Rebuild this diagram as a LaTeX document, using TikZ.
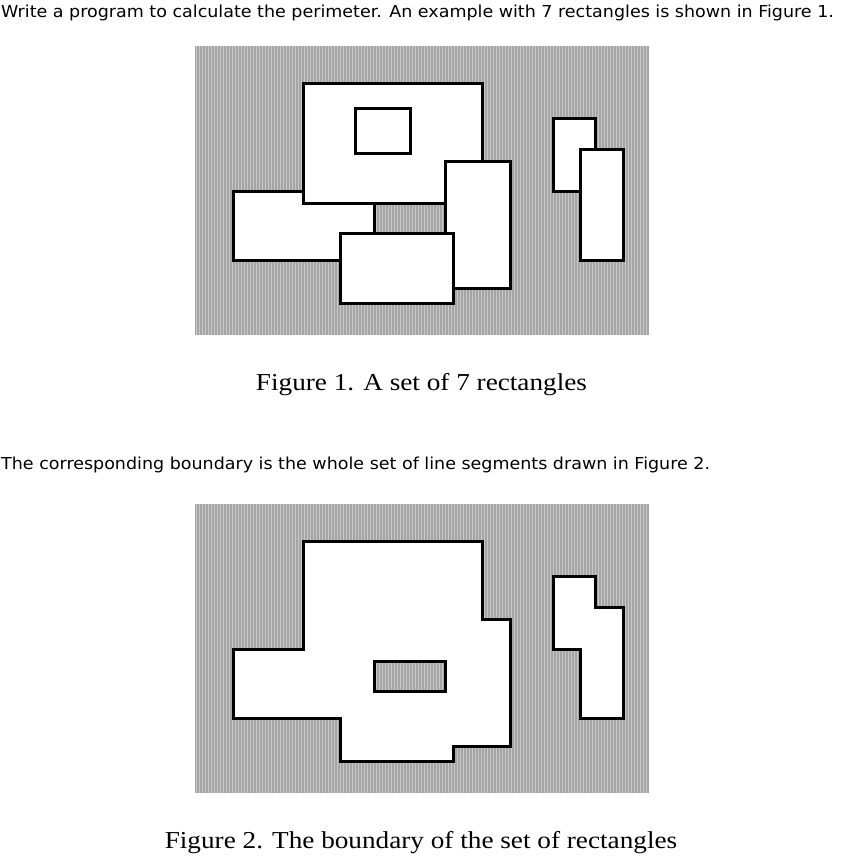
\documentclass[tikz,border=0pt]{standalone}
\usepackage{fontspec}
\setmainfont{Liberation Serif}
\newfontfamily\webfont[FakeStretch=1.06]{DejaVu Sans}
\newfontfamily\capfont[FakeStretch=1.12]{Liberation Serif}
\definecolor{panelgray}{RGB}{165,165,165}
\definecolor{stripegray}{RGB}{200,200,200}
\tikzset{
  panel/.style={fill=panelgray, draw=none},
  stripe/.style={draw=stripegray, line width=1pt},
  rectbox/.style={draw=black, fill=white, line width=3pt},
  holebox/.style={draw=black, fill=panelgray, line width=3pt},
  webtext/.style={anchor=base west, inner sep=0pt, font=\webfont\fontsize{16.5}{20}\selectfont},
  figcaption/.style={anchor=base, inner sep=0pt, font=\capfont\fontsize{24.3}{28}\selectfont},
}

\begin{document}
\begin{tikzpicture}[x=1pt,y=-1pt]
  \useasboundingbox (0,0) rectangle (847,860);
  \node[webtext] (intro) at (1,17) {Write a program to calculate the perimeter. An example with 7 rectangles is shown in Figure 1.};
  %figura 1
  \fill[panel] (195,46) rectangle (649,335);
  \foreach \x in {196.5,199.5,...,648} \draw[stripe] (\x,46) -- (\x,335);
  \draw[rectbox] (233,191) rectangle (374,260);
  \draw[rectbox] (303,83) rectangle (482,203);
  \draw[rectbox] (355,108) rectangle (410,153);
  \draw[rectbox] (445,161) rectangle (510,288);
  \draw[rectbox] (340,233) rectangle (453,303);
  \draw[rectbox] (553,118) rectangle (595,191);
  \draw[rectbox] (580,149) rectangle (623,260);
  \node[figcaption] (capone) at (421.5,390) {Figure 1. A set of 7 rectangles};
  \node[webtext] (boundarytext) at (1,469) {The corresponding boundary is the whole set of line segments drawn in Figure 2.};
  %figura 2
  \begin{scope}[shift={(0,458)}]
    \fill[panel] (195,46) rectangle (649,335);
    \foreach \x in {196.5,199.5,...,648} \draw[stripe] (\x,46) -- (\x,335);
    \draw[rectbox] (303,83) -- (482,83) -- (482,161) -- (510,161) -- (510,288) -- (453,288) -- (453,303)
      -- (340,303) -- (340,260) -- (233,260) -- (233,191) -- (303,191) -- cycle;
    \draw[holebox] (374,203) rectangle (445,233);
    \foreach \x in {376.5,379.5,...,444} \draw[stripe] (\x,204.5) -- (\x,231.5);
    \draw[rectbox] (553,118) -- (595,118) -- (595,149) -- (623,149) -- (623,260) -- (580,260) -- (580,191)
      -- (553,191) -- cycle;
  \end{scope}
  \node[figcaption] (captwo) at (421,848) {Figure 2. The boundary of the set of rectangles};
\end{tikzpicture}
\end{document}
